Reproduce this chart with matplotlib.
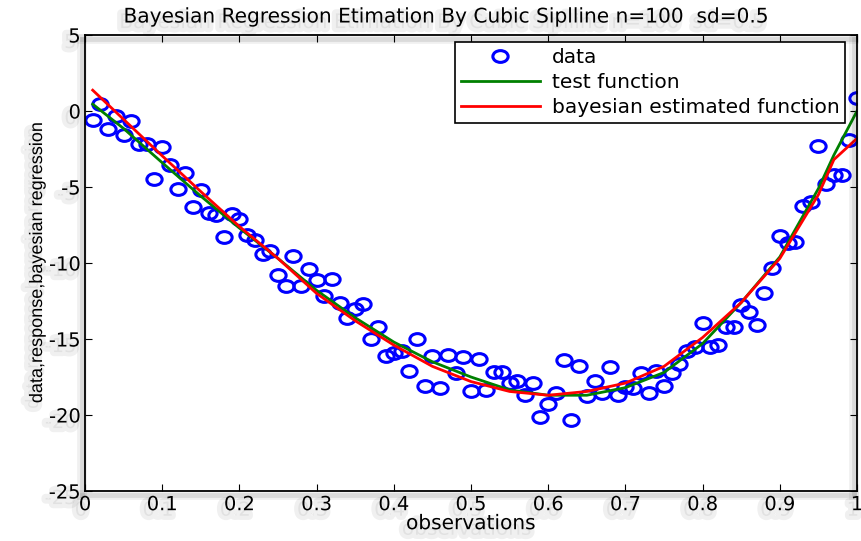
import numpy as np
import matplotlib
matplotlib.use('Agg')
import matplotlib.pyplot as plt
import matplotlib.patheffects as pe
from matplotlib.path import Path
from matplotlib.transforms import Affine2D

plt.rcParams['font.family'] = ['DejaVu Sans']
plt.rcParams['axes.unicode_minus'] = False

# observations x = 0.01 ... 1.00
obs = [
    -0.6, 0.45, -1.2, -0.33, -1.6, -0.65, -2.2, -2.2, -4.5, -2.4,
    -3.55, -5.15, -4.1, -6.3, -5.2, -6.7, -6.85, -8.3, -6.8, -7.1,
    -8.15, -8.5, -9.4, -9.2, -10.8, -11.5, -9.55, -11.5, -10.4, -11.1,
    -12.2, -11.05, -12.65, -13.6, -13.0, -12.7, -15.0, -14.2, -16.15, -15.9,
    -15.8, -17.1, -15.0, -18.1, -16.15, -18.25, -16.05, -17.25, -16.2, -18.45,
    -16.3, -18.35, -17.15, -17.15, -17.9, -17.75, -18.7, -17.9, -20.15, -19.3,
    -18.55, -16.35, -20.3, -16.75, -18.75, -17.75, -18.55, -16.85, -18.7, -18.15,
    -18.25, -17.25, -18.55, -17.1, -18.1, -17.25, -16.65, -15.8, -15.5, -13.95,
    -15.5, -15.4, -14.2, -14.2, -12.75, -13.25, -14.05, -12.0, -10.35, -8.2,
    -8.7, -8.65, -6.25, -6.0, -2.3, -4.8, -4.2, -4.2, -1.9, 0.85,
]
x_obs = np.arange(1, 101) / 100

# curves
x_fun = [0.01, 0.05, 0.1, 0.15, 0.2, 0.25, 0.3, 0.35, 0.4, 0.45, 0.5,
         0.55, 0.6, 0.65, 0.7, 0.75, 0.8, 0.85, 0.9, 0.95, 0.97, 1.0]
test_fun = [0.45, -1.15, -3.4, -5.6, -7.7, -9.7, -11.8, -13.6, -15.2, -16.5, -17.5,
            -18.35, -18.7, -18.7, -18.2, -17.2, -15.3, -12.6, -9.6, -5.1, -2.9, 0.0]
bayes_fun = [1.37, -0.55, -2.95, -5.3, -7.6, -9.7, -12.0, -13.8, -15.4, -16.8, -17.8,
             -18.45, -18.7, -18.45, -17.9, -16.8, -14.9, -12.6, -9.7, -5.5, -3.2, -1.8]

# the picture is stretched sideways, so the circles are a little wide
oval = Path.unit_circle().transformed(Affine2D().scale(1.3, 1.0))

# soft grey shadow like the screenshot
frame_shadow = [pe.Stroke(offset=(-2, -3), linewidth=7, foreground='k', alpha=0.06),
                pe.Stroke(offset=(-2, -3), linewidth=3.5, foreground='k', alpha=0.09),
                pe.Normal()]
text_shadow = [pe.Stroke(offset=(-3, -4), linewidth=6, foreground='k', alpha=0.06),
               pe.Normal()]

fig = plt.figure(figsize=(8.61, 5.41), dpi=100)
ax = fig.add_axes([0.0987, 0.0924, 0.8967, 0.8429])

ax.plot(x_obs, obs, linestyle='none', marker=oval, color='#0000ff', mfc='none',
        ms=11, mew=2.2, label='data')
ax.plot(x_fun, test_fun, color='#008000', lw=2, label='test function')
ax.plot(x_fun, bayes_fun, color='#ff0000', lw=2, label='bayesian estimated function')

ax.set_xlim(0, 1)
ax.set_ylim(-25, 5)
ax.set_xticks(np.arange(0, 1.01, 0.1))
ax.set_xticklabels(['0', '0.1', '0.2', '0.3', '0.4', '0.5', '0.6', '0.7', '0.8', '0.9', '1'])
ax.set_yticks(range(-25, 6, 5))
ax.tick_params(direction='in', top=True, right=True, length=5, labelsize=14, pad=3)
for s in ax.spines.values():
    s.set_linewidth(1.3)
    s.set_path_effects(frame_shadow)

ax.set_title('Bayesian Regression Etimation By Cubic Siplline n=100  sd=0.5',
             fontsize=14.5, x=0.468, pad=9)
ax.set_xlabel('observations', fontsize=14.5, labelpad=0)
ax.set_ylabel('data,response,bayesian regression', fontsize=13,
              family='Liberation Sans', labelpad=2)

for t in ax.get_xticklabels() + ax.get_yticklabels() + [ax.title, ax.xaxis.label, ax.yaxis.label]:
    t.set_path_effects(text_shadow)

leg = ax.legend(loc='upper right', bbox_to_anchor=(0.985, 0.985), fontsize=14.5, fancybox=False,
                edgecolor='black', framealpha=1, borderpad=0.3, handlelength=3.9,
                handletextpad=0.6, labelspacing=0.3, borderaxespad=0)
leg.get_frame().set_linewidth(1.2)

plt.savefig('out.png')
